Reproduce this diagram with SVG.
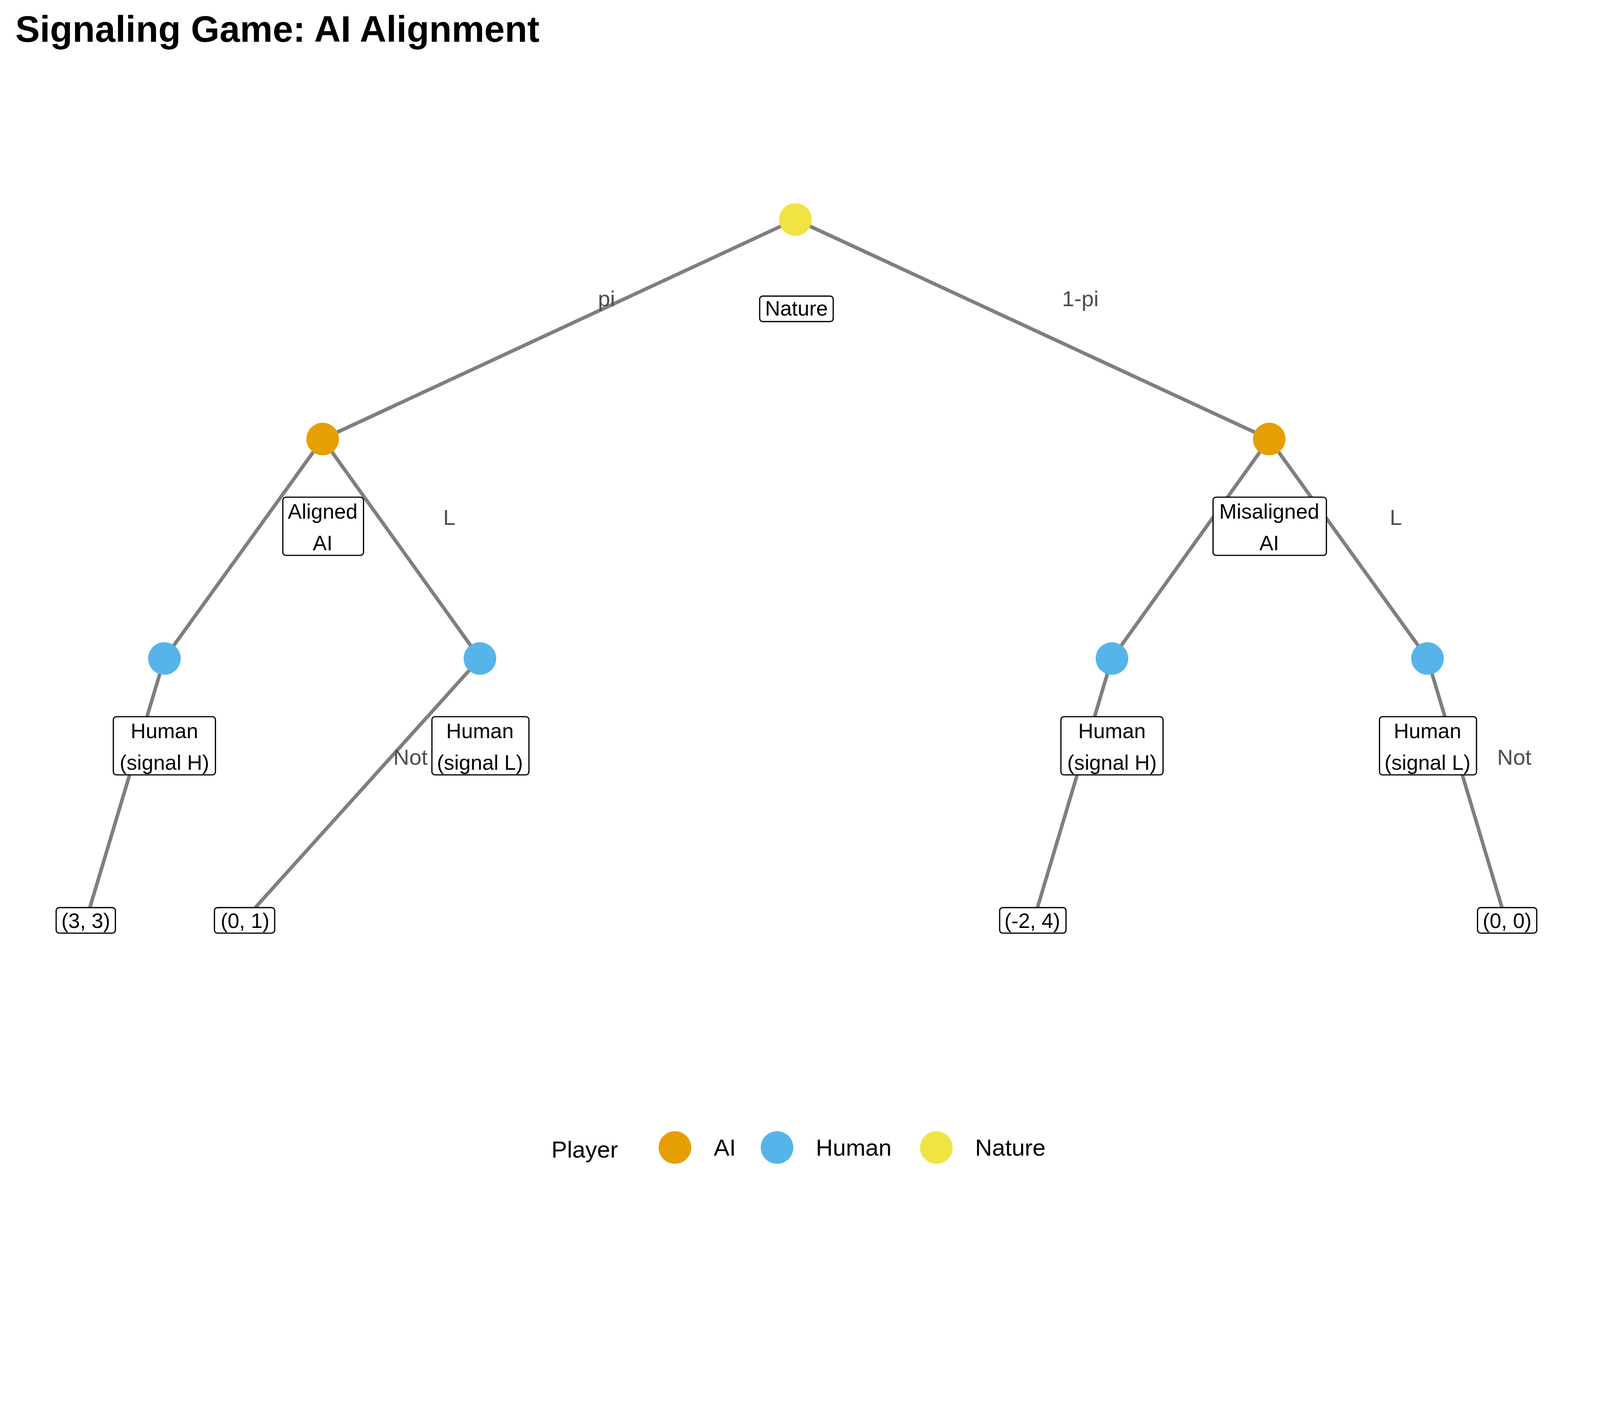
<svg xmlns="http://www.w3.org/2000/svg" width="4800" height="3600" viewBox="0 0 4800 3600">
<style>
.e{stroke:#7f7f7f;stroke-width:3.5;fill:none}
.b{fill:#fff;stroke:#000;stroke-width:1.2}
.t{font-family:"Liberation Sans",Arial,sans-serif;font-size:20.5px;fill:#000;text-anchor:middle}
.el{font-family:"Liberation Sans",Arial,sans-serif;font-size:21.5px;fill:#4d4d4d;text-anchor:middle}
.lg{font-family:"Liberation Sans",Arial,sans-serif;font-size:23px;fill:#000}
</style>
<rect width="4800" height="3600" fill="#fff"/>
<g transform="scale(2.614)">
<text x="15" y="41" font-family="Liberation Sans,Arial,sans-serif" font-size="36" font-weight="bold">Signaling Game: AI Alignment</text>
<g id="connectors">
<line class="e" x1="779" y1="215" x2="316" y2="430"/>
<line class="e" x1="779" y1="215" x2="1243" y2="430"/>
<line class="e" x1="316" y1="430" x2="161" y2="645"/>
<line class="e" x1="316" y1="430" x2="470" y2="645"/>
<line class="e" x1="1243" y1="430" x2="1089" y2="645"/>
<line class="e" x1="1243" y1="430" x2="1398" y2="645"/>
<line class="e" x1="161" y1="645" x2="88" y2="889"/>
<line class="e" x1="470" y1="645" x2="250" y2="889"/>
<line class="e" x1="1089" y1="645" x2="1016" y2="889"/>
<line class="e" x1="1398" y1="645" x2="1471" y2="889"/>
<text class="el" x="594" y="300">pi</text>
<text class="el" x="1058" y="300">1-pi</text>
<text class="el" x="440" y="514">L</text>
<text class="el" x="1367" y="514">L</text>
<text class="el" x="402" y="749">Not</text>
<text class="el" x="1483" y="749">Not</text>
</g>
<g id="nature"><circle cx="779" cy="215" r="16" fill="#f0e442"/><rect class="b" x="744" y="290" width="72" height="25" rx="3"/><text class="t" x="780" y="309">Nature</text></g>
<g id="ai-aligned"><circle cx="316" cy="430" r="16" fill="#e69f00"/><rect class="b" x="277" y="487" width="79" height="57" rx="3"/><text class="t" x="316" y="508">Aligned</text><text class="t" x="316" y="539">AI</text></g>
<g id="ai-misaligned"><circle cx="1243" cy="430" r="16" fill="#e69f00"/><rect class="b" x="1188" y="487" width="111" height="57" rx="3"/><text class="t" x="1243" y="508">Misaligned</text><text class="t" x="1243" y="539">AI</text></g>
<g id="h1"><circle cx="161" cy="645" r="16" fill="#56b4e9"/><rect class="b" x="111" y="702" width="100" height="57" rx="3"/><text class="t" x="161" y="723">Human</text><text class="t" x="161" y="754">(signal H)</text></g>
<g id="h2"><circle cx="470" cy="645" r="16" fill="#56b4e9"/><rect class="b" x="423" y="702" width="95" height="57" rx="3"/><text class="t" x="470" y="723">Human</text><text class="t" x="470" y="754">(signal L)</text></g>
<g id="h3"><circle cx="1089" cy="645" r="16" fill="#56b4e9"/><rect class="b" x="1039" y="702" width="100" height="57" rx="3"/><text class="t" x="1089" y="723">Human</text><text class="t" x="1089" y="754">(signal H)</text></g>
<g id="h4"><circle cx="1398" cy="645" r="16" fill="#56b4e9"/><rect class="b" x="1351" y="702" width="95" height="57" rx="3"/><text class="t" x="1398" y="723">Human</text><text class="t" x="1398" y="754">(signal L)</text></g>
<g id="p1"><rect class="b" x="55" y="889" width="58" height="25" rx="3"/><text class="t" x="84" y="909">(3, 3)</text></g>
<g id="p2"><rect class="b" x="210" y="889" width="59" height="25" rx="3"/><text class="t" x="240" y="909">(0, 1)</text></g>
<g id="p3"><rect class="b" x="979" y="889" width="65" height="25" rx="3"/><text class="t" x="1011" y="909">(-2, 4)</text></g>
<g id="p4"><rect class="b" x="1447" y="889" width="58" height="25" rx="3"/><text class="t" x="1476" y="909">(0, 0)</text></g>
<g id="legend">
<text class="lg" x="540" y="1134" font-size="31">Player</text>
<circle cx="661" cy="1124" r="16" fill="#e69f00"/><text class="lg" x="699" y="1132">AI</text>
<circle cx="761" cy="1124" r="16" fill="#56b4e9"/><text class="lg" x="799" y="1132">Human</text>
<circle cx="917" cy="1124" r="16" fill="#f0e442"/><text class="lg" x="955" y="1132">Nature</text>
</g>
</g>
</svg>
